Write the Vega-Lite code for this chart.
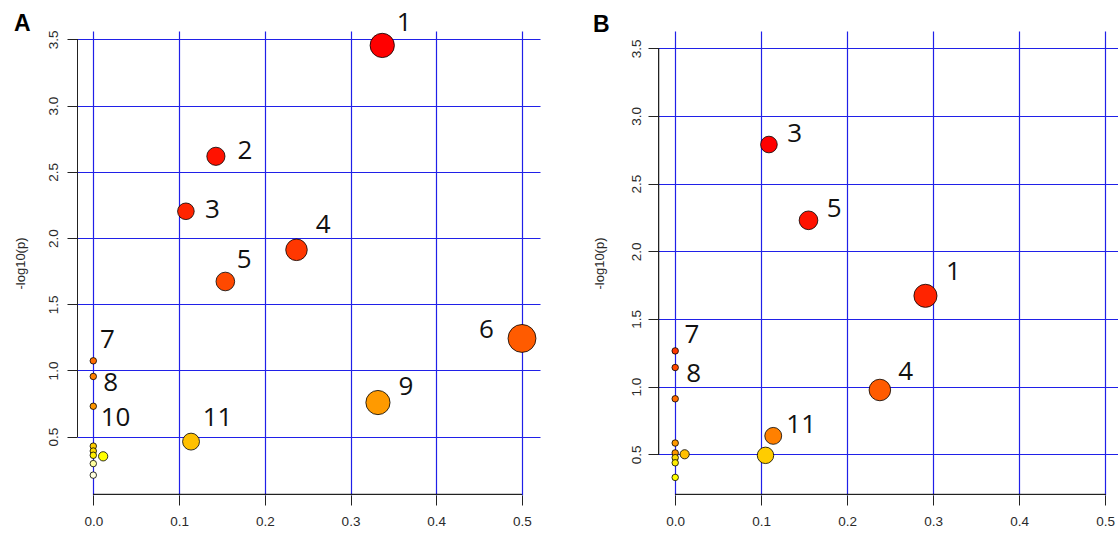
{
  "$schema": "https://vega.github.io/schema/vega-lite/v6.json",
  "background": "white",
  "padding": {"left": 14, "top": 10, "right": 0, "bottom": 0},
  "bounds": "flush",
  "spacing": 118,
  "config": {
    "view": {"stroke": null},
    "axis": {
      "domain": false,
      "grid": true,
      "gridColor": "#2020E8",
      "gridWidth": 1.2,
      "ticks": true,
      "tickColor": "#222",
      "tickSize": 10,
      "labelFont": "Liberation Sans",
      "labelFontSize": 13.5,
      "labelColor": "#2a2a2a",
      "titleFont": "Liberation Sans",
      "titleFontSize": 13,
      "titleColor": "#2a2a2a",
      "titleFontWeight": "normal"
    },
    "title": {"font": "Liberation Sans", "fontSize": 23, "fontWeight": "bold", "anchor": "start", "frame": "bounds", "color": "#000", "baseline": "alphabetic"}
  },
  "hconcat": [
    {
      "title": {"text": "A", "offset": -26},
      "width": 463,
      "height": 464,
      "data": {"values": [
        {"label": "1", "impact": 0.337, "neglogp": 3.454, "lx": 0.3625, "ly": 3.62},
        {"label": "2", "impact": 0.143, "neglogp": 2.617, "lx": 0.177, "ly": 2.655},
        {"label": "3", "impact": 0.108, "neglogp": 2.202, "lx": 0.139, "ly": 2.212},
        {"label": "4", "impact": 0.237, "neglogp": 1.911, "lx": 0.268, "ly": 2.102},
        {"label": "5", "impact": 0.154, "neglogp": 1.672, "lx": 0.176, "ly": 1.836},
        {"label": "6", "impact": 0.5, "neglogp": 1.242, "lx": 0.4585, "ly": 1.303},
        {"label": "7", "impact": 0, "neglogp": 1.073, "lx": 0.0166, "ly": 1.23},
        {"label": "8", "impact": 0, "neglogp": 0.955, "lx": 0.0204, "ly": 0.905},
        {"label": "9", "impact": 0.332, "neglogp": 0.758, "lx": 0.3646, "ly": 0.878},
        {"label": "10", "impact": 0, "neglogp": 0.73, "lx": 0.026, "ly": 0.643},
        {"label": "11", "impact": 0.114, "neglogp": 0.463, "lx": 0.145, "ly": 0.643},
        {"impact": 0, "neglogp": 0.429},
        {"impact": 0, "neglogp": 0.392},
        {"impact": 0, "neglogp": 0.36},
        {"impact": 0.0115, "neglogp": 0.352},
        {"impact": 0, "neglogp": 0.297},
        {"impact": 0, "neglogp": 0.21}
      ]},
      "layer": [
        {
          "mark": {"type": "circle", "opacity": 1, "stroke": "#000", "strokeWidth": 0.8},
          "encoding": {
            "x": {"field": "impact", "type": "quantitative",
              "scale": {"domain": [-0.019, 0.521], "nice": false, "zero": false},
              "axis": {"values": [0, 0.1, 0.2, 0.3, 0.4, 0.5], "format": ".1f", "title": null, "labelPadding": 9}},
            "y": {"field": "neglogp", "type": "quantitative",
              "scale": {"domain": [0.06, 3.563], "nice": false, "zero": false},
              "axis": {"values": [0.5, 1, 1.5, 2, 2.5, 3, 3.5], "format": ".1f", "title": "-log10(p)",
                "labelAngle": 270, "labelAlign": "center", "labelBaseline": "alphabetic", "labelPadding": 10,
                "minExtent": 33, "maxExtent": 33, "titlePadding": 17}},
            "size": {"field": "impact", "type": "quantitative",
              "scale": {"type": "pow", "exponent": 0.75, "domain": [0, 0.5], "range": [42, 780]}, "legend": null},
            "color": {"field": "neglogp", "type": "ordinal",
              "scale": {
                "domain": [3.454, 2.617, 2.202, 1.911, 1.672, 1.242, 1.073, 0.955, 0.758, 0.73, 0.463, 0.429, 0.392, 0.36, 0.352, 0.297, 0.21],
                "range": ["#FF0000", "#FF1200", "#FF2400", "#FF3700", "#FF4900", "#FF5B00", "#FF6D00", "#FF8000", "#FF9A00", "#FF9600", "#FFC000", "#FFCC00", "#FFDB00", "#FFED00", "#FFFF00", "#FFFF9F", "#FFFFDF"]},
              "legend": null}
          }
        },
        {
          "mark": {"type": "rule", "color": "#222", "strokeWidth": 1},
          "encoding": {"x": {"datum": 0}, "x2": {"datum": 0.5}, "y": {"datum": 0.0638}}
        },
        {
          "mark": {"type": "rule", "color": "#222", "strokeWidth": 1},
          "encoding": {"x": {"datum": -0.0184}, "y": {"datum": 0.5}, "y2": {"datum": 3.5}}
        },
        {
          "transform": [{"filter": "isValid(datum.label)"}],
          "mark": {"type": "text", "font": "Open Sans", "fontSize": 26, "align": "center", "baseline": "middle", "color": "#111"},
          "encoding": {
            "x": {"field": "lx", "type": "quantitative"},
            "y": {"field": "ly", "type": "quantitative"},
            "text": {"field": "label"}
          }
        }
      ]
    },
    {
      "title": {"text": "B", "offset": -6},
      "width": 460,
      "height": 464,
      "data": {"values": [
        {"label": "3", "impact": 0.109, "neglogp": 2.789, "lx": 0.139, "ly": 2.869},
        {"label": "5", "impact": 0.155, "neglogp": 2.229, "lx": 0.185, "ly": 2.314},
        {"label": "1", "impact": 0.291, "neglogp": 1.671, "lx": 0.3234, "ly": 1.844},
        {"label": "7", "impact": 0, "neglogp": 1.264, "lx": 0.0194, "ly": 1.385},
        {"label": "8", "impact": 0, "neglogp": 1.141, "lx": 0.0214, "ly": 1.093},
        {"label": "4", "impact": 0.238, "neglogp": 0.975, "lx": 0.268, "ly": 1.108},
        {"impact": 0, "neglogp": 0.91},
        {"label": "11", "impact": 0.114, "neglogp": 0.636, "lx": 0.1465, "ly": 0.717},
        {"impact": 0, "neglogp": 0.583},
        {"impact": 0, "neglogp": 0.51},
        {"impact": 0.011, "neglogp": 0.5},
        {"impact": 0.105, "neglogp": 0.492},
        {"impact": 0, "neglogp": 0.475},
        {"impact": 0, "neglogp": 0.437},
        {"impact": 0, "neglogp": 0.329}
      ]},
      "layer": [
        {
          "mark": {"type": "circle", "opacity": 1, "stroke": "#000", "strokeWidth": 0.8},
          "encoding": {
            "x": {"field": "impact", "type": "quantitative",
              "scale": {"domain": [-0.02, 0.5149], "nice": false, "zero": false},
              "axis": {"values": [0, 0.1, 0.2, 0.3, 0.4, 0.5], "format": ".1f", "title": null, "labelPadding": 9}},
            "y": {"field": "neglogp", "type": "quantitative",
              "scale": {"domain": [0.199, 3.628], "nice": false, "zero": false},
              "axis": {"values": [0.5, 1, 1.5, 2, 2.5, 3, 3.5], "format": ".1f", "title": "-log10(p)",
                "labelAngle": 270, "labelAlign": "center", "labelBaseline": "alphabetic", "labelPadding": 8,
                "minExtent": 33, "maxExtent": 33, "titlePadding": 19}},
            "size": {"field": "impact", "type": "quantitative",
              "scale": {"type": "pow", "exponent": 0.75, "domain": [0, 0.5], "range": [42, 640]}, "legend": null},
            "color": {"field": "neglogp", "type": "ordinal",
              "scale": {
                "domain": [2.789, 2.229, 1.671, 1.264, 1.141, 0.975, 0.91, 0.636, 0.583, 0.51, 0.5, 0.492, 0.475, 0.437, 0.329],
                "range": ["#FF0000", "#FF1700", "#FF2E00", "#FF4600", "#FF5D00", "#FF7400", "#FF8B00", "#FFA200", "#FFB900", "#FFD100", "#FFE800", "#FFFF00", "#FFFF2A", "#FFFF80", "#FFFFD5"]},
              "legend": null}
          }
        },
        {
          "mark": {"type": "rule", "color": "#222", "strokeWidth": 1},
          "encoding": {"x": {"datum": 0}, "x2": {"datum": 0.5}, "y": {"datum": 0.2027}}
        },
        {
          "mark": {"type": "rule", "color": "#222", "strokeWidth": 1},
          "encoding": {"x": {"datum": -0.0194}, "y": {"datum": 0.5}, "y2": {"datum": 3.5}}
        },
        {
          "transform": [{"filter": "isValid(datum.label)"}],
          "mark": {"type": "text", "font": "Open Sans", "fontSize": 26, "align": "center", "baseline": "middle", "color": "#111"},
          "encoding": {
            "x": {"field": "lx", "type": "quantitative"},
            "y": {"field": "ly", "type": "quantitative"},
            "text": {"field": "label"}
          }
        }
      ]
    }
  ]
}
